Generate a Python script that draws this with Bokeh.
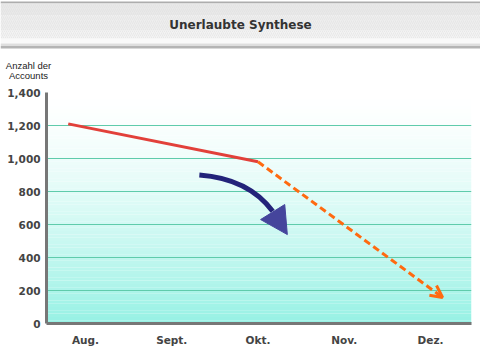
from bokeh.plotting import figure
from bokeh.layouts import column
from bokeh.embed import file_html
from bokeh.resources import INLINE
from bokeh.models import (FixedTicker, NumeralTickFormatter, Arrow, OpenHead,
                          ColumnDataSource, Range1d)
from bokeh.core.properties import value

# ---------------- data ----------------
months = ["Aug.", "Sept.", "Okt.", "Nov.", "Dez."]
month_pos = [0, 1, 2, 3, 4]
y_ticks = [0, 200, 400, 600, 800, 1000, 1200, 1400]

actual_x = [-0.2, 2.0]
actual_y = [1210, 980]

forecast_x = [2.0, 4.14]
forecast_y = [980, 158]

# trend arrow (decorative, in data units)
trend_start = (1.32, 900)
trend_ctrl = (1.89, 878)
trend_end = (2.17, 680)
trend_head_x = [2.03, 2.31, 2.34]
trend_head_y = [630, 721, 539]

title_text = "Unerlaubte Synthese"
y_title = "Anzahl der\nAccounts"

W = 480
X0, X1 = -0.452, 4.475
Y0, Y1 = 0, 1400

# ---------------- header (title band + y-axis caption) ----------------
HH = 84
hdr = figure(width=W, height=HH, output_backend="svg", toolbar_location=None,
             x_range=Range1d(0, W), y_range=Range1d(HH, 0),
             x_axis_type=None, y_axis_type=None, min_border=0,
             outline_line_color=None, background_fill_color="white",
             border_fill_color="white", frame_align=False)
band_top = [1, 3, 15, 30, 38, 43, 45.5]
band_bot = [3, 15, 30, 38, 43, 45.5, 48]
band_col = ["#adadad", "#e9e9e9", "#eeeeee", "#f3f3f3", "#f9f9f9", "#dedede", "#b4b4b4"]
hdr.quad(left=0, right=W, top=band_top, bottom=band_bot, fill_color=band_col,
         line_color=None)
hdr.quad(left=0, right=W, top=3, bottom=38, fill_alpha=0, line_color=None,
         hatch_pattern="right_diagonal_line", hatch_color="#dcdcdc", hatch_alpha=0.45,
         hatch_scale=4, hatch_weight=1)
hdr.text(x=[W / 2], y=[24.5], text=[title_text], text_align="center",
         text_baseline="middle", text_font=value("DejaVu Sans"),
         text_font_style="bold", text_font_size="12px", text_color="#333333")
hdr.text(x=[28], y=[59], text=[y_title], text_align="center", text_baseline="top",
         text_font=value("Liberation Sans"), text_font_size="9.5px",
         text_color="#222222", text_line_height=0.95)

# ---------------- main chart ----------------
p = figure(width=W, height=268, output_backend="svg", toolbar_location=None,
           x_range=Range1d(X0, X1), y_range=Range1d(Y0, Y1),
           min_border_left=46, min_border_right=9, min_border_top=8,
           min_border_bottom=29, background_fill_color="white",
           border_fill_color="white", outline_line_color=None, frame_align=False)

# background gradient (white at top -> aqua at bottom)
n = 70
bots, tops, cols = [], [], []
for i in range(n):
    b = Y0 + (Y1 - Y0) * i / n
    t = Y0 + (Y1 - Y0) * (i + 1) / n
    f = 1 - (b + t) / 2 / (Y1 - Y0)
    f = f ** 1.5
    r = int(round(255 + (150 - 255) * f))
    g = int(round(255 + (241 - 255) * f))
    bl = int(round(255 + (228 - 255) * f))
    bots.append(b); tops.append(t); cols.append("#%02x%02x%02x" % (r, g, bl))
bg = p.quad(left=X0, right=X1, bottom=bots, top=tops, fill_color=cols, line_color=None)
bg.level = "image"

# grid
p.xgrid.grid_line_color = None
p.ygrid.grid_line_color = "#5fcbab"
p.ygrid.grid_line_width = 1
p.ygrid.level = "underlay"

# axes
p.xaxis.ticker = FixedTicker(ticks=month_pos)
p.xaxis.major_label_overrides = {m: l for m, l in zip(month_pos, months)}
p.yaxis.ticker = FixedTicker(ticks=y_ticks)
p.yaxis.formatter = NumeralTickFormatter(format="0,0")
for ax in (p.xaxis, p.yaxis):
    ax.axis_line_color = "#777777"
    ax.axis_line_width = 3
    ax.major_tick_line_color = None
    ax.minor_tick_line_color = None
    ax.major_label_text_font = "DejaVu Sans"
    ax.major_label_text_font_style = "bold"
    ax.major_label_text_font_size = "10.5px"
    ax.major_label_text_color = "#444444"
p.xaxis.major_label_standoff = 4
p.yaxis.major_label_standoff = 0

# lines
p.line(actual_x, actual_y, line_color="#e2403a", line_width=3)
src_f = ColumnDataSource(dict(x0=[forecast_x[0]], y0=[forecast_y[0]],
                              x1=[forecast_x[1]], y1=[forecast_y[1]]))
p.add_layout(Arrow(source=src_f, x_start="x0", y_start="y0", x_end="x1", y_end="y1",
                   line_color="#ff6a10", line_width=3, line_dash="7 4",
                   end=OpenHead(size=12, line_color="#ff6a10", line_width=3)))

# trend arrow
p.quadratic(x0=[trend_start[0]], y0=[trend_start[1]], x1=[trend_end[0]], y1=[trend_end[1]],
            cx=[trend_ctrl[0]], cy=[trend_ctrl[1]], line_color="#23237a", line_width=5)
p.patch(trend_head_x, trend_head_y, fill_color="#45459c", line_color="#45459c", line_width=1)

# ---------------- footer line ----------------
ftr = figure(width=W, height=8, output_backend="svg", toolbar_location=None,
             x_range=Range1d(0, W), y_range=Range1d(8, 0),
             x_axis_type=None, y_axis_type=None, min_border=0,
             outline_line_color=None, background_fill_color="white",
             border_fill_color="white", frame_align=False)
ftr.quad(left=0, right=W, top=[3.5, 5], bottom=[5, 7], fill_color=["#dadada", "#bdbdbd"],
         line_color=None)

layout = column(hdr, p, ftr, spacing=0)
open("out.html", "w").write(file_html(layout, INLINE))
